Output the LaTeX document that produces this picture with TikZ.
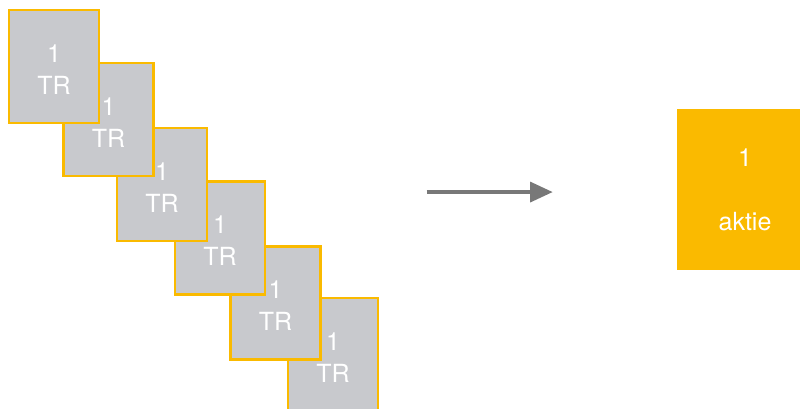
\documentclass[tikz,border=0pt]{standalone}
\usepackage{fontspec}
\setmainfont{TeX Gyre Heros}
\usepackage{xcolor}
\usepackage{tikz}
\usetikzlibrary{positioning, arrows.meta}
\definecolor{trgeel}{RGB}{250,186,0}
\definecolor{trgrijs}{RGB}{200,201,205}
\definecolor{pijlgrijs}{RGB}{120,120,120}

\begin{document}
\begin{tikzpicture}[trvak/.style={rectangle, draw=trgeel, line width=1.8pt, fill=trgrijs, text=white, minimum width=67.5pt, minimum height=84.75pt, inner sep=0pt, align=center, text height=41.8pt, font=\fontsize{18.75}{24}\selectfont}, aktievak/.style={rectangle, fill=trgeel, text=white, minimum width=102pt, minimum height=120.75pt, inner sep=0pt, align=center, font=\fontsize{18.75}{48}\selectfont}]
		\useasboundingbox (0,0) rectangle (600pt,306.75pt);
		
		\node[trvak] (tr6) at (249.75pt,40.7pt) {1\\TR};
		\node[trvak, above left = -47.8pt and -26.2pt of tr6] (tr5) {1\\TR};
		\node[trvak, above left = -37.8pt and -27.7pt of tr5] (tr4) {1\\TR};
		\node[trvak, above left = -46.5pt and -25.8pt of tr4] (tr3) {1\\TR};
		\node[trvak, above left = -37.8pt and -29.2pt of tr3] (tr2) {1\\TR};
		\node[trvak, above left = -46.8pt and -28.4pt of tr2] (tr1) {1\\TR};
		
		\node[aktievak] (aktie) at (558.75pt,164.6pt) {1\\aktie};
		
		\coordinate[below left = 1.9pt and 93pt of aktie.west] (pijl-eind);
		\coordinate[left = 94.5pt of pijl-eind] (pijl-start);
		\draw[-{Triangle[length=17pt, width=15pt]}, line width=2.6pt, pijlgrijs] (pijl-start) -- (pijl-eind);
		
	\end{tikzpicture}
\end{document}
